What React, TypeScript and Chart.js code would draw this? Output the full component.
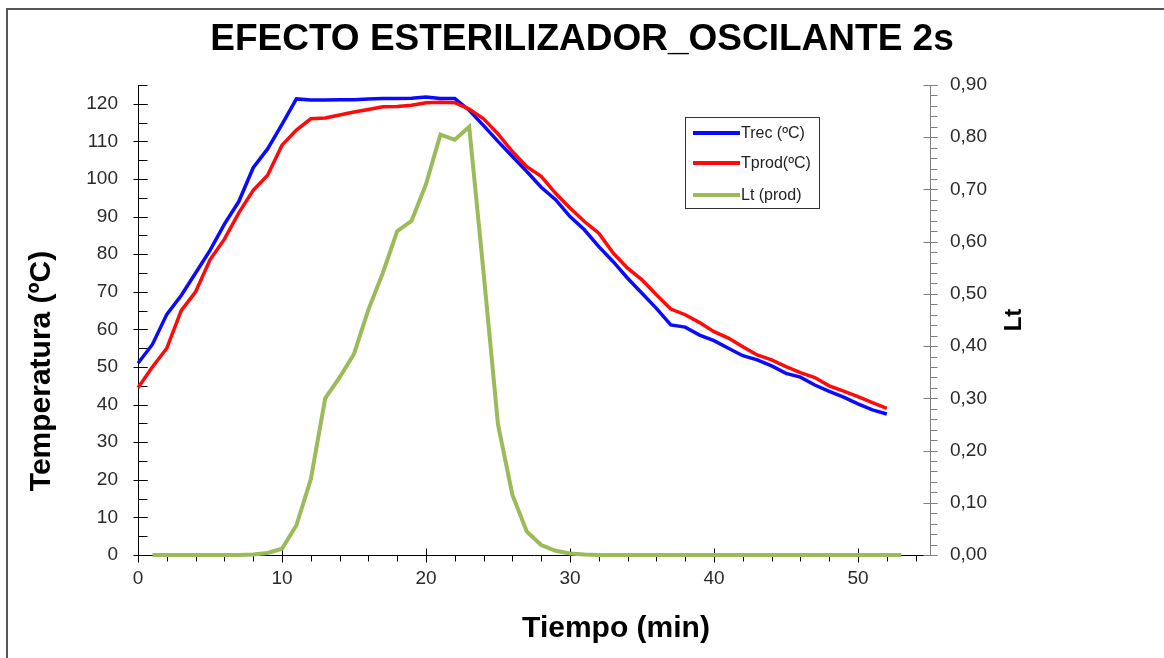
import React, { useEffect, useRef } from "react";
import { Chart, registerables } from "chart.js";

Chart.register(...registerables);

const TITLE = "EFECTO ESTERILIZADOR_OSCILANTE 2s";
const X_TITLE = "Tiempo (min)";
const Y_TITLE = "Temperatura (ºC)";
const Y2_TITLE = "Lt";
const SERIES_NAMES = ["Trec (ºC)", "Tprod(ºC)", "Lt (prod)"];

const tiempo = [
  0, 1, 2, 3, 4, 5, 6, 7, 8, 9, 10, 11, 12, 13, 14, 15, 16, 17, 18, 19, 20,
  21, 22, 23, 24, 25, 26, 27, 28, 29, 30, 31, 32, 33, 34, 35, 36, 37, 38, 39,
  40, 41, 42, 43, 44, 45, 46, 47, 48, 49, 50, 51, 52,
];

const tRec = [
  51, 56, 64, 69, 75, 81, 88, 94, 103, 108, 114.5, 121.3, 121, 121, 121.1,
  121.1, 121.3, 121.4, 121.4, 121.5, 121.8, 121.4, 121.4, 118.3, 114.2, 110,
  106, 102, 97.8, 94.5, 90, 86.5, 82, 78, 73.6, 69.6, 65.6, 61.2, 60.6, 58.5,
  57, 55, 53, 51.9, 50.3, 48.3, 47.3, 45.2, 43.5, 42, 40.2, 38.6, 37.5,
];

const tProd = [
  44.5, 50, 55, 65, 70, 78.5, 84, 91, 97, 101, 109, 113, 116, 116.2, 117,
  117.8, 118.5, 119.2, 119.3, 119.6, 120.3, 120.4, 120.3, 118.6, 116, 112,
  107.3, 103.3, 100.7, 96.2, 92.3, 88.7, 85.6, 80.3, 76.3, 73.2, 69.2, 65.4,
  63.9, 61.8, 59.4, 57.7, 55.4, 53.2, 51.9, 50.1, 48.5, 47.2, 45, 43.6, 42.1,
  40.5, 39,
];

const tiempoLt = [
  1, 2, 3, 4, 5, 6, 7, 8, 9, 10, 11, 12, 13, 14, 15, 16, 17, 18, 19, 20, 21,
  22, 23, 24, 25, 26, 27, 28, 29, 30, 31, 32, 33, 34, 35, 36, 37, 38, 39, 40,
  41, 42, 43, 44, 45, 46, 47, 48, 49, 50, 51, 52, 53,
];

const ltProd = [
  0, 0, 0, 0, 0, 0, 0, 0.001, 0.004, 0.012, 0.057, 0.145, 0.3, 0.34, 0.385,
  0.47, 0.54, 0.62, 0.64, 0.71, 0.805, 0.795, 0.82, 0.54, 0.25, 0.115, 0.045,
  0.019, 0.008, 0.003, 0.001, 0, 0, 0, 0, 0, 0, 0, 0, 0, 0, 0, 0, 0, 0, 0, 0,
  0, 0, 0, 0, 0, 0,
];

const xTicks = [0, 10, 20, 30, 40, 50];
const yTicks = [0, 10, 20, 30, 40, 50, 60, 70, 80, 90, 100, 110, 120];
const y2Ticks = [0, 0.1, 0.2, 0.3, 0.4, 0.5, 0.6, 0.7, 0.8, 0.9];

const FONT = "'Liberation Sans', Arial, sans-serif";
const BLUE = "#0a0aff";
const RED = "#ff0a0a";
const GREEN = "#9bbb59";

const decorPlugin = {
  id: "decor",
  beforeDatasetsDraw(chart: any) {
    const ctx = chart.ctx;
    const { x, y, y2 } = chart.scales;
    const axisY = Math.round(x.top) + 0.5;
    const axisL = Math.round(y.right) + 0.5;
    const axisR = Math.round(y2.left) + 0.5;
    ctx.save();
    ctx.lineWidth = 1;
    ctx.strokeStyle = "#000";
    ctx.beginPath();
    for (let v = 0; v <= 55; v += 2) {
      const px = Math.round(x.getPixelForValue(v)) + 0.5;
      ctx.moveTo(px, axisY);
      ctx.lineTo(px, axisY + 6);
    }
    for (const v of xTicks) {
      const px = Math.round(x.getPixelForValue(v)) + 0.5;
      ctx.moveTo(px, axisY - 7);
      ctx.lineTo(px, axisY + 7);
    }
    for (let v = 0; v <= 125; v += 5) {
      const py = Math.round(y.getPixelForValue(v)) + 0.5;
      ctx.moveTo(axisL, py);
      ctx.lineTo(axisL + 9, py);
    }
    for (const v of yTicks) {
      const py = Math.round(y.getPixelForValue(v)) + 0.5;
      ctx.moveTo(axisL - 5, py);
      ctx.lineTo(axisL + 9, py);
    }
    ctx.stroke();
    ctx.strokeStyle = "#808080";
    ctx.beginPath();
    for (let i = 0; i <= 45; i++) {
      const py = Math.round(y2.getPixelForValue(i * 0.02)) + 0.5;
      ctx.moveTo(axisR, py);
      ctx.lineTo(axisR + 7, py);
    }
    for (const v of y2Ticks) {
      const py = Math.round(y2.getPixelForValue(v)) + 0.5;
      ctx.moveTo(axisR - 7, py);
      ctx.lineTo(axisR + 7, py);
    }
    ctx.stroke();
    ctx.restore();
  },
  afterDraw(chart: any) {
    const ctx = chart.ctx;
    ctx.save();
    ctx.fillStyle = "#555555";
    ctx.fillRect(6, 8, 1164 - 6, 2);
    ctx.fillRect(6, 8, 2, 658 - 8);
    ctx.fillStyle = "#000";
    ctx.textAlign = "center";
    ctx.textBaseline = "alphabetic";
    ctx.font = `bold 37px ${FONT}`;
    ctx.fillText(TITLE, 582, 50);
    ctx.font = `bold 30px ${FONT}`;
    ctx.fillText(X_TITLE, 616, 637);
    ctx.save();
    ctx.translate(50, 371);
    ctx.rotate(-Math.PI / 2);
    ctx.fillText(Y_TITLE, 0, 0);
    ctx.restore();
    ctx.save();
    ctx.translate(1021, 320);
    ctx.rotate(-Math.PI / 2);
    ctx.font = `bold 24px ${FONT}`;
    ctx.fillText(Y2_TITLE, 0, 0);
    ctx.restore();
    const lx = 685, ly = 117, lw = 134, lh = 91;
    ctx.fillStyle = "#fff";
    ctx.fillRect(lx, ly, lw, lh);
    ctx.strokeStyle = "#333";
    ctx.lineWidth = 1;
    ctx.strokeRect(lx + 0.5, ly + 0.5, lw, lh);
    const rows = [133, 163, 195];
    chart.data.datasets.forEach((ds: any, i: number) => {
      ctx.strokeStyle = ds.borderColor;
      ctx.lineWidth = 4;
      ctx.beginPath();
      ctx.moveTo(693, rows[i]);
      ctx.lineTo(740, rows[i]);
      ctx.stroke();
      ctx.fillStyle = "#222";
      ctx.font = `16px ${FONT}`;
      ctx.textAlign = "left";
      ctx.textBaseline = "middle";
      ctx.fillText(ds.label, 741, rows[i] + 1);
    });
    ctx.restore();
  },
};

export default function App() {
  const ref = useRef<HTMLCanvasElement>(null);
  useEffect(() => {
    if (!ref.current) return;
    const chart = new Chart(ref.current, {
      type: "line",
      data: {
        datasets: [
          {
            label: SERIES_NAMES[0],
            data: tiempo.map((t, i) => ({ x: t, y: tRec[i] })),
            borderColor: BLUE,
            borderWidth: 3.5,
            pointRadius: 0,
            tension: 0,
            yAxisID: "y",
            order: 3,
            clip: false as any,
          },
          {
            label: SERIES_NAMES[1],
            data: tiempo.map((t, i) => ({ x: t, y: tProd[i] })),
            borderColor: RED,
            borderWidth: 3.5,
            pointRadius: 0,
            tension: 0,
            yAxisID: "y",
            order: 2,
            clip: false as any,
          },
          {
            label: SERIES_NAMES[2],
            data: tiempoLt.map((t, i) => ({ x: t, y: ltProd[i] })),
            borderColor: GREEN,
            borderWidth: 4,
            pointRadius: 0,
            tension: 0,
            yAxisID: "y2",
            order: 1,
            clip: false as any,
          },
        ],
      },
      options: {
        animation: false,
        responsive: false,
        maintainAspectRatio: false,
        devicePixelRatio: 1,
        layout: { padding: { top: 85, left: 0, right: 0, bottom: 0 } },
        plugins: {
          legend: { display: false },
          title: { display: false },
          tooltip: { enabled: false },
        },
        scales: {
          x: {
            type: "linear",
            min: 0,
            max: 55,
            afterBuildTicks: (s: any) => {
              s.ticks = xTicks.map((v) => ({ value: v }));
            },
            afterFit: (s: any) => {
              s.height = 103;
            },
            grid: { display: false, drawTicks: false },
            border: { display: true, color: "#000", width: 1 },
            ticks: {
              autoSkip: false,
              maxRotation: 0,
              padding: 12,
              color: "#2a2a2a",
              font: { family: FONT, size: 19 },
            },
          },
          y: {
            type: "linear",
            position: "left",
            min: 0,
            max: 125,
            afterBuildTicks: (s: any) => {
              s.ticks = yTicks.map((v) => ({ value: v }));
            },
            afterFit: (s: any) => {
              s.width = 138;
            },
            grid: { display: false, drawTicks: false },
            border: { display: true, color: "#000", width: 1 },
            ticks: {
              autoSkip: false,
              padding: 20,
              color: "#2a2a2a",
              font: { family: FONT, size: 19 },
              callback: (v: any) => String(v),
            },
          },
          y2: {
            type: "linear",
            position: "right",
            min: 0,
            max: 0.9,
            afterBuildTicks: (s: any) => {
              s.ticks = y2Ticks.map((v) => ({ value: v }));
            },
            afterFit: (s: any) => {
              s.width = 234;
            },
            grid: { display: false, drawTicks: false, drawOnChartArea: false },
            border: { display: true, color: "#808080", width: 1 },
            ticks: {
              autoSkip: false,
              padding: 20,
              color: "#2a2a2a",
              font: { family: FONT, size: 19 },
              callback: (v: any) => Number(v).toFixed(2).replace(".", ","),
            },
          },
        },
      },
      plugins: [decorPlugin],
    } as any);
    return () => chart.destroy();
  }, []);
  return (
    <div
      style={{
        position: "absolute",
        left: 0,
        top: 0,
        width: 1164,
        height: 658,
        background: "#fff",
        overflow: "hidden",
      }}
    >
      <canvas
        ref={ref}
        width={1164}
        height={658}
        style={{ display: "block", width: 1164, height: 658 }}
      />
    </div>
  );
}
